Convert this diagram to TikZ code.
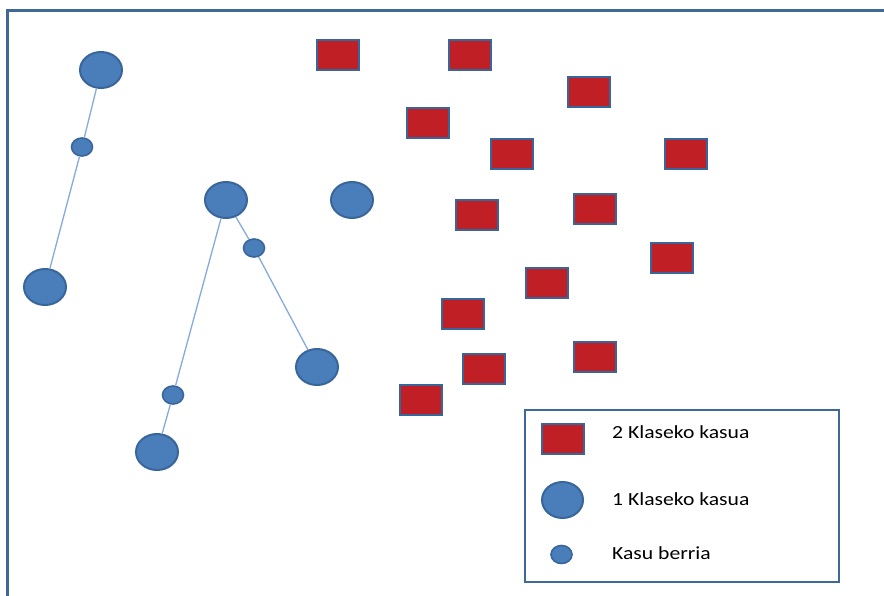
\documentclass[tikz,border=0pt]{standalone}
\usepackage{fontspec}
\setmainfont{Carlito}
\usetikzlibrary{shapes.geometric}
\definecolor{framecol}{HTML}{3D6897}
\definecolor{dotfill}{HTML}{4A7EBB}
\definecolor{dotedge}{HTML}{38659A}
\definecolor{boxfill}{HTML}{C01F26}
\definecolor{linkcol}{HTML}{85ABDC}
\tikzset{
  bigdot/.style={ellipse, draw=dotedge, fill=dotfill, line width=2pt,
    minimum width=42pt, minimum height=36pt, inner sep=0pt},
  smalldot/.style={ellipse, draw=dotedge, fill=dotfill, line width=1.6pt,
    minimum width=21pt, minimum height=18pt, inner sep=0pt},
  classbox/.style={rectangle, draw=dotedge, fill=boxfill, line width=2pt,
    minimum width=42pt, minimum height=30pt, inner sep=0pt},
  link/.style={draw=linkcol, line width=1.3pt},
  legendtext/.style={anchor=base west, inner sep=0pt, font=\fontsize{18.5}{20}\selectfont},
}
\newcommand{\wide}[1]{\scalebox{1.17}[1]{#1}}
\begin{document}
\begin{tikzpicture}[x=1pt, y=-1pt]
  \useasboundingbox (0,0) rectangle (884,596);
  \fill[white] (0,0) rectangle (884,596);
  % outer frame, running off the right and bottom edges
  \begin{scope}
    \clip (0,0) rectangle (884,596);
    \draw[framecol, line width=3pt] (7,11) rectangle (900,620);
  \end{scope}

  % class 1 cases
  \node[bigdot] (c1) at (101,70) {};
  \node[bigdot] (c2) at (45,287) {};
  \node[bigdot] (c3) at (226,200) {};
  \node[bigdot] (c4) at (352,200) {};
  \node[bigdot] (c5) at (317,367) {};
  \node[bigdot] (c6) at (157,452) {};

  % new cases
  \node[smalldot] (n1) at (82,147) {};
  \node[smalldot] (n2) at (254,248) {};
  \node[smalldot] (n3) at (173,395) {};

  % links between cases
  \path[link] (c1) -- (n1);
  \path[link] (n1) -- (c2);
  \path[link] (c3) -- (n2);
  \path[link] (n2) -- (c5);
  \path[link] (c3) -- (n3);
  \path[link] (n3) -- (c6);

  % class 2 cases
  \node[classbox] (r1) at (338,55) {};
  \node[classbox] (r2) at (470,55) {};
  \node[classbox] (r3) at (589,92) {};
  \node[classbox] (r4) at (428,123) {};
  \node[classbox] (r5) at (512,154) {};
  \node[classbox] (r6) at (686,154) {};
  \node[classbox] (r7) at (477,215) {};
  \node[classbox] (r8) at (595,209) {};
  \node[classbox] (r9) at (672,258) {};
  \node[classbox] (r10) at (547,283) {};
  \node[classbox] (r11) at (463,314) {};
  \node[classbox] (r12) at (595,357) {};
  \node[classbox] (r13) at (484,369) {};
  \node[classbox] (r14) at (421,400) {};

  % legend
  \node[draw=framecol, fill=white, line width=2.2pt, minimum width=314pt,
        minimum height=172pt, inner sep=0pt] (legend) at (682,496) {};
  \node[classbox] (lbox) at (563,438.5) {};
  \node[bigdot, minimum width=41pt] (lbig) at (562.5,500) {};
  \node[smalldot] (lsmall) at (561.5,554.5) {};
  \node[legendtext] (t1) at (612,438) {\wide{2 Klaseko kasua}};
  \node[legendtext] (t2) at (612,505) {\wide{1 Klaseko kasua}};
  \node[legendtext] (t3) at (612,559) {\wide{Kasu berria}};
\end{tikzpicture}
\end{document}
